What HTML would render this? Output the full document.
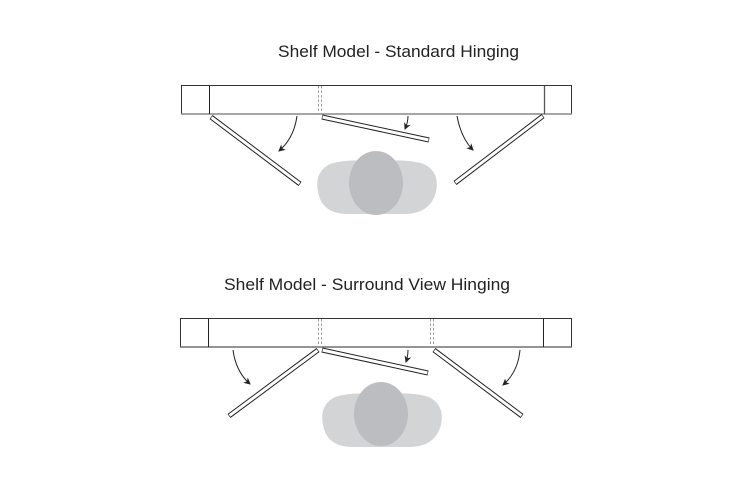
<!DOCTYPE html>
<html><head><meta charset="utf-8"><style>
html,body{margin:0;padding:0;background:#fff;width:750px;height:500px;overflow:hidden}
svg{display:block}
text{font-family:"Liberation Sans",sans-serif;font-size:17px;fill:#222}
</style></head><body>
<svg width="750" height="500" viewBox="0 0 750 500" xmlns="http://www.w3.org/2000/svg">
<defs>
<marker id="ah" markerWidth="8" markerHeight="8" refX="6" refY="4" orient="auto" markerUnits="userSpaceOnUse">
<path d="M0,0.5 L7,4 L0,7.5 L2,4 Z" fill="#222"/>
</marker>
</defs>
<text x="278" y="57" textLength="241" lengthAdjust="spacingAndGlyphs">Shelf Model - Standard Hinging</text>
<text x="224" y="290" textLength="286" lengthAdjust="spacingAndGlyphs">Shelf Model - Surround View Hinging</text>

<g fill="none">
<rect x="181.5" y="85.5" width="390" height="28.5" stroke="#333" stroke-width="1"/>
<line x1="181" y1="114" x2="572" y2="114" stroke="#888" stroke-width="1.5"/>
<line x1="209.5" y1="86" x2="209.5" y2="114" stroke="#222" stroke-width="1"/>
<line x1="544.5" y1="86" x2="544.5" y2="114" stroke="#555" stroke-width="1.3"/>
<line x1="318.5" y1="86" x2="318.5" y2="114" stroke="#999" stroke-dasharray="2.5,2"/>
<line x1="321.5" y1="86" x2="321.5" y2="114" stroke="#999" stroke-dasharray="2.5,2"/>
</g>
<g stroke-linecap="butt">
<line x1="211" y1="117" x2="300" y2="184" stroke="#222" stroke-width="5"/>
<line x1="211.5" y1="117.4" x2="299.5" y2="183.6" stroke="#fff" stroke-width="3"/>
<line x1="322" y1="117" x2="429" y2="140" stroke="#222" stroke-width="5"/>
<line x1="322.6" y1="117.1" x2="428.4" y2="139.9" stroke="#fff" stroke-width="3"/>
<line x1="543" y1="116" x2="455" y2="183" stroke="#222" stroke-width="5"/>
<line x1="542.5" y1="116.4" x2="455.5" y2="182.6" stroke="#fff" stroke-width="3"/>
</g>
<g fill="none" stroke="#222" stroke-width="1" marker-end="url(#ah)">
<path d="M297,116 Q294,138 279,151"/>
<path d="M408,116 Q408,122 405,129"/>
<path d="M457,116 Q461,138 473,150"/>
</g>
<path d="M330,164 Q350,158 376,162 Q404,158 424,164 Q440,172 436,192 Q430,214 404,214 L348,214 Q322,214 318,192 Q314,172 330,164 Z" fill="#d3d4d6"/>
<ellipse cx="376" cy="183" rx="27" ry="32" fill="#bcbdc0"/>

<g fill="none">
<rect x="180.5" y="318.5" width="391" height="28.5" stroke="#333" stroke-width="1"/>
<line x1="180" y1="347" x2="572" y2="347" stroke="#555" stroke-width="1.3"/>
<line x1="208.5" y1="319" x2="208.5" y2="347" stroke="#222" stroke-width="1"/>
<line x1="543.5" y1="319" x2="543.5" y2="347" stroke="#222" stroke-width="1"/>
<line x1="318.5" y1="319" x2="318.5" y2="347" stroke="#999" stroke-dasharray="2.5,2"/>
<line x1="321.5" y1="319" x2="321.5" y2="347" stroke="#999" stroke-dasharray="2.5,2"/>
<line x1="430.5" y1="319" x2="430.5" y2="347" stroke="#999" stroke-dasharray="2.5,2"/>
<line x1="433.5" y1="319" x2="433.5" y2="347" stroke="#999" stroke-dasharray="2.5,2"/>
</g>
<g>
<line x1="318" y1="350" x2="229" y2="416" stroke="#222" stroke-width="5"/>
<line x1="317.5" y1="350.4" x2="229.5" y2="415.6" stroke="#fff" stroke-width="3"/>
<line x1="322" y1="350" x2="428" y2="373" stroke="#222" stroke-width="5"/>
<line x1="322.6" y1="350.1" x2="427.4" y2="372.9" stroke="#fff" stroke-width="3"/>
<line x1="434" y1="350" x2="522" y2="416" stroke="#222" stroke-width="5"/>
<line x1="434.5" y1="350.4" x2="521.5" y2="415.6" stroke="#fff" stroke-width="3"/>
</g>
<g fill="none" stroke="#222" stroke-width="1" marker-end="url(#ah)">
<path d="M233,350 Q236,372 250,384"/>
<path d="M408,350 Q408,356 406,362"/>
<path d="M520,350 Q518,372 503,385"/>
</g>
<path d="M335,397 Q355,391 381,395 Q409,391 429,397 Q445,405 441,425 Q435,447 409,447 L353,447 Q327,447 323,425 Q319,405 335,397 Z" fill="#d3d4d6"/>
<ellipse cx="381" cy="414" rx="27" ry="32" fill="#bcbdc0"/>
</svg>
</body></html>
